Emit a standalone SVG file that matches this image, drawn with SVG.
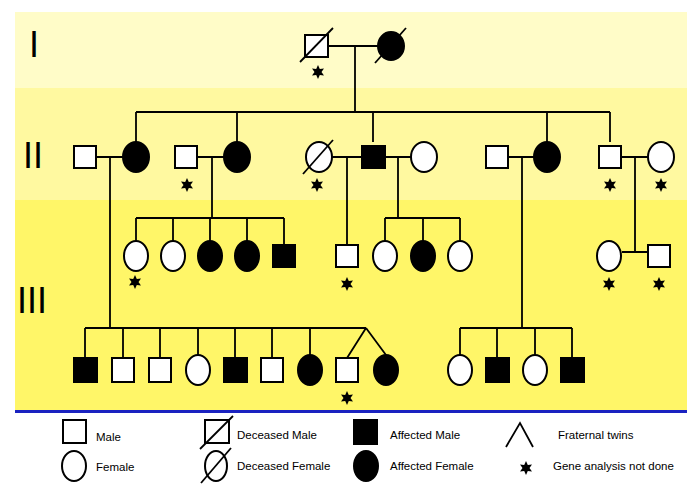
<svg xmlns="http://www.w3.org/2000/svg" xmlns:xlink="http://www.w3.org/1999/xlink" width="700" height="489" viewBox="0 0 700 489">
<style>
.s{fill:#fff;stroke:#000;stroke-width:2}
.a{fill:#000;stroke:#000;stroke-width:2}
.l{fill:none;stroke:#000;stroke-width:1.8}
.t{font-family:"Liberation Sans",Arial,sans-serif;font-size:11.5px;fill:#000}
.g{font-family:"Liberation Sans",Arial,sans-serif;font-size:36px;fill:#000}
</style>
<defs>
<polygon id="st" points="0,-7 1.8,-3 6,-3.5 3.5,0 6,3.5 1.8,3 0,7 -1.8,3 -6,3.5 -3.5,0 -6,-3.5 -1.8,-3" fill="#000"/>
</defs>
<rect x="0" y="0" width="700" height="489" fill="#fff"/>
<rect x="15" y="12" width="672" height="76" fill="#fffcc8"/>
<rect x="15" y="88" width="672" height="112" fill="#fff9a0"/>
<rect x="15" y="200" width="672" height="211" fill="#fff668"/>
<line x1="15" y1="411.5" x2="687" y2="411.5" stroke="#1a22c0" stroke-width="3"/>
<text class="g" x="29" y="57">I</text>
<text class="g" x="23" y="168">II</text>
<text class="g" x="17" y="313">III</text>
<g id="connectors" class="l">
<path d="M328,46H378M355,46V112M136,112H610M136,112V142M237,112V142M373,112V142M547,112V142M610,112V142"/>
<path d="M96,157H123M110,157V328M85,328H366M85,328V358M123,328V358M160,328V358M198,328V355M235,328V358M272,328V358M310,328V355M366,328L347,358M366,328L386,355"/>
<path d="M197,157H224M212,157V218M136,218H284M136,218V241M173,218V241M210,218V241M247,218V241M284,218V245"/>
<path d="M332,157H362M385,157H411M347,157V245M398,157V218M385,218H460M385,218V241M423,218V241M460,218V241"/>
<path d="M508,157H534M522,157V328M460,328H572M460,328V355M497,328V358M535,328V355M572,328V358"/>
<path d="M621,157H648M635,157V252M622,252H648"/>
</g>
<g id="I1"><rect class="s" x="305" y="35" width="23" height="22"/><line class="l" x1="300" y1="62" x2="333" y2="28"/><use href="#st" x="318" y="72"/></g>
<g id="I2"><ellipse class="a" cx="391" cy="46" rx="13" ry="14"/><line class="l" x1="375" y1="63" x2="406" y2="28"/></g>
<g id="II1"><rect class="s" x="74" y="146" width="22" height="22"/></g>
<g id="II2"><ellipse class="a" cx="136" cy="157" rx="13" ry="15"/></g>
<g id="II3"><rect class="s" x="175" y="146" width="22" height="22"/><use href="#st" x="187" y="185"/></g>
<g id="II4"><ellipse class="a" cx="237" cy="157" rx="13" ry="15"/></g>
<g id="II5"><ellipse class="s" cx="319" cy="157" rx="13" ry="15"/><line class="l" x1="303" y1="174" x2="333" y2="140"/><use href="#st" x="317" y="185"/></g>
<g id="II6"><rect class="a" x="362" y="146" width="23" height="22"/></g>
<g id="II7"><ellipse class="s" cx="424" cy="157" rx="13" ry="15"/></g>
<g id="II8"><rect class="s" x="486" y="146" width="22" height="22"/></g>
<g id="II9"><ellipse class="a" cx="547" cy="157" rx="13" ry="15"/></g>
<g id="II10"><rect class="s" x="599" y="146" width="22" height="22"/><use href="#st" x="610" y="185"/></g>
<g id="II11"><ellipse class="s" cx="661" cy="157" rx="13" ry="15"/><use href="#st" x="661" y="185"/></g>
<g id="III1"><ellipse class="s" cx="136" cy="256" rx="12" ry="15"/><use href="#st" x="135" y="282"/></g>
<g id="III2"><ellipse class="s" cx="173" cy="256" rx="12" ry="15"/></g>
<g id="III3"><ellipse class="a" cx="210" cy="256" rx="12" ry="15"/></g>
<g id="III4"><ellipse class="a" cx="247" cy="256" rx="12" ry="15"/></g>
<g id="III5"><rect class="a" x="273" y="245" width="22" height="22"/></g>
<g id="III6"><rect class="s" x="336" y="245" width="22" height="22"/><use href="#st" x="347" y="284"/></g>
<g id="III7"><ellipse class="s" cx="385" cy="256" rx="12" ry="15"/></g>
<g id="III8"><ellipse class="a" cx="423" cy="256" rx="12" ry="15"/></g>
<g id="III9"><ellipse class="s" cx="460" cy="256" rx="12" ry="15"/></g>
<g id="III10"><ellipse class="s" cx="609" cy="256" rx="12" ry="15"/><use href="#st" x="609" y="284"/></g>
<g id="III11"><rect class="s" x="648" y="245" width="22" height="22"/><use href="#st" x="659" y="284"/></g>
<g id="III12"><rect class="a" x="74" y="358" width="23" height="24"/></g>
<g id="III13"><rect class="s" x="112" y="358" width="22" height="24"/></g>
<g id="III14"><rect class="s" x="149" y="358" width="22" height="24"/></g>
<g id="III15"><ellipse class="s" cx="198" cy="370" rx="12" ry="15"/></g>
<g id="III16"><rect class="a" x="224" y="358" width="23" height="24"/></g>
<g id="III17"><rect class="s" x="261" y="358" width="22" height="24"/></g>
<g id="III18"><ellipse class="a" cx="310" cy="370" rx="12" ry="15"/></g>
<g id="III19"><rect class="s" x="336" y="358" width="22" height="24"/><use href="#st" x="347" y="398"/></g>
<g id="III20"><ellipse class="a" cx="386" cy="370" rx="12" ry="15"/></g>
<g id="III21"><ellipse class="s" cx="460" cy="370" rx="12" ry="15"/></g>
<g id="III22"><rect class="a" x="486" y="358" width="23" height="24"/></g>
<g id="III23"><ellipse class="s" cx="535" cy="370" rx="12" ry="15"/></g>
<g id="III24"><rect class="a" x="561" y="358" width="23" height="24"/></g>
<g id="legend">
<rect class="s" x="63" y="420" width="23" height="23"/><text class="t" x="96" y="441">Male</text>
<ellipse class="s" cx="74" cy="466" rx="12" ry="15"/><text class="t" x="96" y="471">Female</text>
<rect class="s" x="205" y="420" width="24" height="23"/><line class="l" x1="200" y1="449" x2="233" y2="416"/><text class="t" x="237" y="439">Deceased Male</text>
<ellipse class="s" cx="216" cy="466" rx="11" ry="15"/><line class="l" x1="201" y1="483" x2="231" y2="448"/><text class="t" x="237" y="470">Deceased Female</text>
<rect class="a" x="354" y="420" width="23" height="24"/><text class="t" x="390" y="439">Affected Male</text>
<ellipse class="a" cx="366" cy="466" rx="12" ry="15"/><text class="t" x="390" y="470">Affected Female</text>
<path class="l" d="M506,447L520,423L533,447"/><text class="t" x="558" y="439">Fraternal twins</text>
<use href="#st" x="526" y="468"/><text class="t" x="553" y="470">Gene analysis not done</text>
</g>
</svg>
